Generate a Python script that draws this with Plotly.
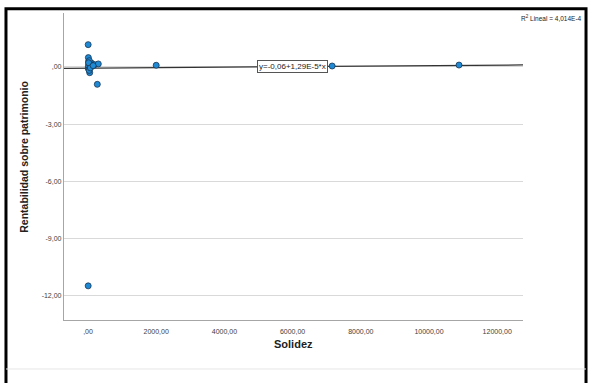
import plotly.graph_objects as go

# Solidez vs. Rentabilidad sobre patrimonio
solidez = [5, 10, 15, 20, 30, 8, 50, 110, 196, 302, 273, 12, 25, 40, 60, 80,
           120, 35, 18, 70, 150, 2000, 7160, 10880, 5]
rentabilidad = [1.17, 0.49, 0.28, 0.14, 0.05, -0.07, -0.30, 0.19, 0.12, 0.16,
                -0.91, 0.02, -0.12, 0.33, 0.08, 0.10, 0.04, -0.18, 0.22, -0.05,
                0.07, 0.09, 0.05, 0.10, -11.48]

# Linear fit reported on the chart
intercept = -0.06
slope = 1.29e-5
r2_text = "R<sup>2</sup> Lineal = 4,014E-4"
fit_text = "y=-0,06+1,29E-5*x"

x_range = [-704, 12757]
y_range = [-13.27, 2.83]
x_ticks = [0, 2000, 4000, 6000, 8000, 10000, 12000]
x_ticktext = [",00", "2000,00", "4000,00", "6000,00", "8000,00", "10000,00", "12000,00"]
y_ticks = [-12, -9, -6, -3, 0]
y_ticktext = ["-12,00", "-9,00", "-6,00", "-3,00", ",00"]

FONT = "Liberation Sans, Arial, sans-serif"
TEXT = "#404040"

fig = go.Figure()

fit_x = x_range
fit_y = [intercept + slope * v for v in fit_x]
fig.add_trace(go.Scatter(x=fit_x, y=fit_y, mode="lines",
                         line=dict(color="#333333", width=1.2),
                         hoverinfo="skip", showlegend=False))

fig.add_trace(go.Scatter(x=solidez, y=rentabilidad, mode="markers",
                         marker=dict(size=6, color="#1e8ad6",
                                     line=dict(color="#1b3552", width=0.8)),
                         showlegend=False))

label_x = 5984
fig.add_annotation(x=label_x, y=intercept + slope * label_x, text=fit_text,
                   showarrow=False, xref="x", yref="y",
                   font=dict(family=FONT, size=8, color="#222222"),
                   bgcolor="white", bordercolor="#555555", borderwidth=1,
                   borderpad=1)

fig.add_annotation(x=0.991, y=0.983, xref="paper", yref="paper",
                   xanchor="left", yanchor="middle", text=r2_text,
                   showarrow=False,
                   font=dict(family=FONT, size=6.5, color="#222222"))

fig.add_annotation(x=0.499, y=-0.104, xref="paper", yref="paper",
                   text="<b>Solidez</b>", showarrow=False,
                   font=dict(family=FONT, size=11, color="#222222"))

fig.add_annotation(x=-0.105, y=0.531, xref="paper", yref="paper",
                   text="<b>Rentabilidad sobre patrimonio</b>", textangle=-90,
                   showarrow=False,
                   font=dict(family=FONT, size=10.5, color="#222222"))

# Frame around the whole chart and the lower separator
fig.add_shape(type="rect", xref="paper", yref="paper",
              x0=-0.1264, x1=1.1373, y0=-0.25, y1=1.0135,
              line=dict(color="black", width=3), layer="above")
fig.add_shape(type="line", xref="paper", yref="paper",
              x0=-0.1264, x1=1.1373, y0=-0.1596, y1=-0.1596,
              line=dict(color="#e6e6e6", width=1))

fig.update_layout(
    width=593, height=383,
    margin=dict(l=64, r=70, t=13, b=63),
    paper_bgcolor="white", plot_bgcolor="white",
    font=dict(family=FONT, size=7, color=TEXT),
    xaxis=dict(range=x_range, tickvals=x_ticks, ticktext=x_ticktext,
               showgrid=False, zeroline=False, showline=True,
               linecolor="#a6a6a6", linewidth=1.2, ticks="",
               ticklabelstandoff=4,
               tickfont=dict(family=FONT, size=7, color=TEXT)),
    yaxis=dict(range=y_range, tickvals=y_ticks, ticktext=y_ticktext,
               showgrid=True, gridcolor="#d9d9d9", gridwidth=1,
               zeroline=False, showline=True,
               linecolor="#a6a6a6", linewidth=1.2, ticks="",
               tickfont=dict(family=FONT, size=7, color=TEXT)),
)

fig.write_html("out.html")
